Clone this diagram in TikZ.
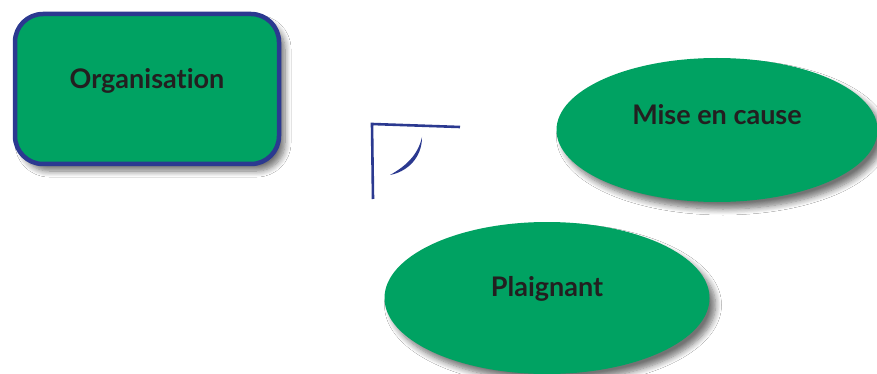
\documentclass[tikz,border=0pt]{standalone}
\usepackage{fontspec}
\setmainfont{Lato}[Ligatures={NoCommon,NoRare}]
\usetikzlibrary{shapes.geometric,shadows.blur}
\definecolor{boxgreen}{HTML}{00A262}
\definecolor{edgeblue}{HTML}{2B3990}
\definecolor{txtdark}{HTML}{231F20}
\tikzset{
  lbl/.style={text=txtdark,font=\bfseries\fontsize{27}{30}\selectfont},
  shad/.style={blur shadow={shadow xshift=6pt,shadow yshift=-7pt,shadow blur steps=8,shadow blur radius=6pt,shadow opacity=55}},
  orgbox/.style={draw=edgeblue,line width=4.5pt,fill=boxgreen,rounded corners=28pt,shad},
  oval/.style={ellipse,fill=boxgreen,shad},
  stroke/.style={draw=edgeblue,line width=2.6pt}
}
\begin{document}
\begin{tikzpicture}[x=1pt,y=-1pt]
\useasboundingbox (0,0) rectangle (877,374);
\fill[white] (0,0) rectangle (877,374);
% Organisation box
\path[orgbox] (15,14) rectangle (279,164);
\node[lbl] (org) at (147,81) {Organisation};
% Mise en cause
\node[oval,minimum width=321pt,minimum height=144pt] (mise) at (717,130) {};
\node[lbl] (misel) at (717,115) {Mise en cause};
% Plaignant
\node[oval,minimum width=325pt,minimum height=152pt] (pla) at (547,298) {};
\node[lbl] (plal) at (547,289) {Plaignant};
% corner mark
\coordinate (c0) at (372,124);
\coordinate (c1) at (373,199);
\coordinate (c2) at (460,127);
\draw[stroke] (c1) -- (c0) -- (c2);
\coordinate (a0) at (422,137);
\coordinate (a1) at (390,175);
\fill[edgeblue] (a0) .. controls (422,159) and (406,172) .. (a1)
  .. controls (406,166) and (418,155) .. (a0) -- cycle;
\end{tikzpicture}
\end{document}
